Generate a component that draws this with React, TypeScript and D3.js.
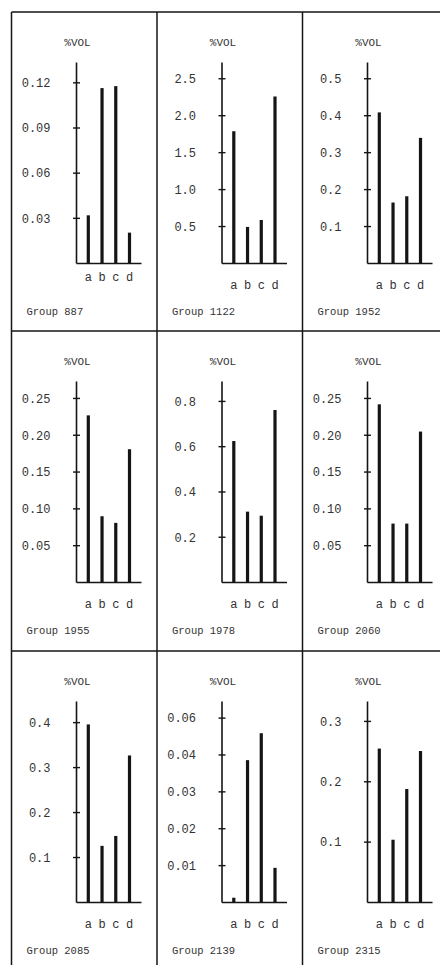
import React from "react";
import * as d3 from "d3";

// ---- data ----
const groupNames = [
  "Group 887", "Group 1122", "Group 1952",
  "Group 1955", "Group 1978", "Group 2060",
  "Group 2085", "Group 2139", "Group 2315",
];
const categories = ["a", "b", "c", "d"];

const vol887 = [0.032, 0.1165, 0.1178, 0.0205];
const vol1122 = [1.79, 0.495, 0.589, 2.26];
const vol1952 = [0.409, 0.165, 0.182, 0.34];
const vol1955 = [0.227, 0.09, 0.081, 0.181];
const vol1978 = [0.625, 0.313, 0.295, 0.762];
const vol2060 = [0.242, 0.08, 0.08, 0.205];
const vol2085 = [0.396, 0.126, 0.148, 0.327];
const vol2139 = [0.0013, 0.0386, 0.0459, 0.0094];
const vol2315 = [0.255, 0.104, 0.188, 0.251];
const seriesValues = [vol887, vol1122, vol1952, vol1955, vol1978, vol2060, vol2085, vol2139, vol2315];

// axis top value of each panel
const axisMax = [0.1335, 2.72, 0.544, 0.273, 0.888, 0.273, 0.447, 0.0545, 0.333];

const tickValues = [
  [0.03, 0.06, 0.09, 0.12],
  [0.5, 1.0, 1.5, 2.0, 2.5],
  [0.1, 0.2, 0.3, 0.4, 0.5],
  [0.05, 0.1, 0.15, 0.2, 0.25],
  [0.2, 0.4, 0.6, 0.8],
  [0.05, 0.1, 0.15, 0.2, 0.25],
  [0.1, 0.2, 0.3, 0.4],
  [0.01, 0.02, 0.03, 0.04, 0.05],
  [0.1, 0.2, 0.3],
];
const tickLabels = [
  ["0.03", "0.06", "0.09", "0.12"],
  ["0.5", "1.0", "1.5", "2.0", "2.5"],
  ["0.1", "0.2", "0.3", "0.4", "0.5"],
  ["0.05", "0.10", "0.15", "0.20", "0.25"],
  ["0.2", "0.4", "0.6", "0.8"],
  ["0.05", "0.10", "0.15", "0.20", "0.25"],
  ["0.1", "0.2", "0.3", "0.4"],
  ["0.01", "0.02", "0.03", "0.04", "0.06"],
  ["0.1", "0.2", "0.3"],
];
const yAxisTitle = "%VOL";

// ---- layout ----
const W = 440;
const H = 965;
const colX = [11.5, 157, 302.5];
const rowY = [12, 331, 651];
const FONT = "'Liberation Mono', 'DejaVu Sans Mono', monospace";
const INK = "#151515";
const TXT = "#333";

function Panel({ idx }: { idx: number }) {
  const col = idx % 3;
  const row = Math.floor(idx / 3);
  const ox = colX[col];
  const oy = rowY[row];
  const axisX = ox + 65;
  const baseY = oy + 251.5;
  const topY = oy + 50.5;
  const y = d3.scaleLinear().domain([0, axisMax[idx]]).range([baseY, topY]);
  const x = d3.scalePoint<string>().domain(categories).range([axisX + 11.8, axisX + 53]);
  const vals = seriesValues[idx];
  const letterY = idx === 0 ? baseY + 17.5 : baseY + 25.5;
  return (
    <g>
      <text x={axisX + 1} y={oy + 34} textAnchor="middle" fontFamily={FONT} fontSize={11} fill={TXT}>
        {yAxisTitle}
      </text>
      <line x1={axisX} x2={axisX} y1={topY} y2={baseY} stroke={INK} strokeWidth={1.6} />
      <line x1={axisX} x2={axisX + 65} y1={baseY} y2={baseY} stroke={INK} strokeWidth={1.6} />
      {tickValues[idx].map((t, i) => (
        <g key={i}>
          <line x1={axisX - 3.5} x2={axisX + 3.5} y1={y(t)} y2={y(t)} stroke={INK} strokeWidth={1.4} />
          <text x={axisX - 26} y={y(t)} dy="0.36em" textAnchor="end" fontFamily={FONT} fontSize={12} fill={TXT}>
            {tickLabels[idx][i]}
          </text>
        </g>
      ))}
      {vals.map((v, i) => (
        <rect key={i} x={(x(categories[i]) as number) - 1.6} width={3.2} y={y(v)} height={baseY - y(v)} fill={INK} />
      ))}
      {categories.map((c) => (
        <text key={c} x={x(c) as number} y={letterY} textAnchor="middle" fontFamily={FONT} fontSize={12} fill={TXT}>
          {c}
        </text>
      ))}
      <text x={ox + 15} y={baseY + 51} fontFamily={FONT} fontSize={10.5} fill={TXT}>
        {groupNames[idx]}
      </text>
    </g>
  );
}

export default function App() {
  return (
    <svg width={W} height={H} style={{ position: "absolute", left: 0, top: 0, background: "#fff" }}>
      <rect x={0} y={0} width={W} height={H} fill="#fff" />
      {rowY.map((ry, i) => (
        <line key={"h" + i} x1={colX[0]} x2={W} y1={ry} y2={ry} stroke={INK} strokeWidth={1.5} />
      ))}
      {colX.map((cx, i) => (
        <line key={"v" + i} x1={cx} x2={cx} y1={rowY[0]} y2={H} stroke={INK} strokeWidth={1.5} />
      ))}
      {groupNames.map((_, i) => (
        <Panel key={i} idx={i} />
      ))}
    </svg>
  );
}
